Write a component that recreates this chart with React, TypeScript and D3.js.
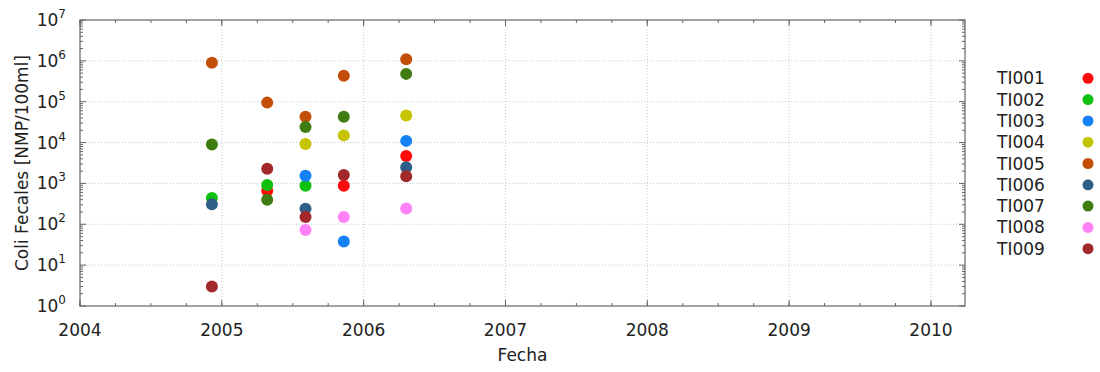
import React from "react";
import * as d3 from "d3";

const seriesNames = ["TI001", "TI002", "TI003", "TI004", "TI005", "TI006", "TI007", "TI008", "TI009"];
const seriesColors = ["#ff0a0a", "#10c010", "#1482f5", "#c6c400", "#c24e08", "#2f5f86", "#3f7c12", "#ff82f8", "#a3282a"];
const sampleDates = [2004.93, 2005.32, 2005.59, 2005.86, 2006.30];
const ti001 = [null, 660, null, 880, 4700];
const ti002 = [440, 920, 880, null, null];
const ti003 = [null, null, 1550, 38, 11000];
const ti004 = [null, null, 9200, 15000, 46000];
const ti005 = [900000, 95000, 43000, 430000, 1100000];
const ti006 = [310, null, 240, null, 2500];
const ti007 = [9000, 400, 24000, 43000, 480000];
const ti008 = [null, null, 72, 150, 245];
const ti009 = [3, 2300, 150, 1600, 1500];
const seriesValues: (number | null)[][] = [ti001, ti002, ti003, ti004, ti005, ti006, ti007, ti008, ti009];
const xTicks = [2004, 2005, 2006, 2007, 2008, 2009, 2010];
const yExponents = [0, 1, 2, 3, 4, 5, 6, 7];

const W = 1100, H = 372;
const L = 80, R = 965, T = 20, B = 306;
const FONT = "DejaVu Sans";
const FS = 17;

export default function App() {
  const x = d3.scaleLinear().domain([2004, 2010.24]).range([L, R]);
  const y = d3.scaleLog().domain([1, 1e7]).range([B, T]);
  const axisColor = "#666";
  const gridColor = "#c8c8c8";

  const minorX: number[] = [];
  for (let yr = 2004; yr <= 2010; yr++) {
    for (let q = 0; q < 4; q++) {
      const v = yr + q * 0.25;
      if (v <= 2010.24) minorX.push(v);
    }
  }
  const minorY: number[] = [];
  for (let e = 0; e < 7; e++) for (let m = 2; m <= 9; m++) minorY.push(m * Math.pow(10, e));

  return (
    <svg width={W} height={H} style={{ position: "absolute", left: 0, top: 0, background: "#fff" }} fontFamily={FONT}>
      <rect x={0} y={0} width={W} height={H} fill="#fff" />
      {/* grid */}
      {xTicks.slice(1).map((t) => (
        <line key={"gx" + t} x1={x(t)} x2={x(t)} y1={T} y2={B} stroke={gridColor} strokeWidth={1} strokeDasharray="1,2" />
      ))}
      {yExponents.slice(1, -1).map((e) => (
        <line key={"gy" + e} x1={L} x2={R} y1={y(Math.pow(10, e))} y2={y(Math.pow(10, e))} stroke={gridColor} strokeWidth={1} strokeDasharray="1,2" />
      ))}
      {/* minor ticks */}
      {minorX.map((v, i) => (
        <g key={"mx" + i} stroke={axisColor} strokeWidth={1}>
          <line x1={x(v)} x2={x(v)} y1={B} y2={B - 3} />
          <line x1={x(v)} x2={x(v)} y1={T} y2={T + 3} />
        </g>
      ))}
      {xTicks.map((t) => (
        <g key={"mjx" + t} stroke={axisColor} strokeWidth={1}>
          <line x1={x(t)} x2={x(t)} y1={B} y2={B - 6} />
          <line x1={x(t)} x2={x(t)} y1={T} y2={T + 6} />
        </g>
      ))}
      {minorY.map((v, i) => (
        <g key={"my" + i} stroke={axisColor} strokeWidth={1}>
          <line x1={L} x2={L + 3} y1={y(v)} y2={y(v)} />
          <line x1={R} x2={R - 3} y1={y(v)} y2={y(v)} />
        </g>
      ))}
      {yExponents.map((e) => (
        <g key={"mjy" + e} stroke={axisColor} strokeWidth={1}>
          <line x1={L} x2={L + 6} y1={y(Math.pow(10, e))} y2={y(Math.pow(10, e))} />
          <line x1={R} x2={R - 6} y1={y(Math.pow(10, e))} y2={y(Math.pow(10, e))} />
        </g>
      ))}
      {/* box */}
      <rect x={L} y={T} width={R - L} height={B - T} fill="none" stroke={axisColor} strokeWidth={1.2} />
      {/* tick labels */}
      {xTicks.map((t) => (
        <text key={"tx" + t} x={x(t)} y={B + 30} textAnchor="middle" fontSize={FS} fill="#222">
          {t}
        </text>
      ))}
      {yExponents.map((e) => (
        <text key={"ty" + e} x={L - 14} y={y(Math.pow(10, e)) + 6} textAnchor="end" fontSize={FS} fill="#222">
          10
          <tspan fontSize={12} dy={-8}>{e}</tspan>
        </text>
      ))}
      {/* axis labels */}
      <text x={(L + R) / 2} y={361} textAnchor="middle" fontSize={FS} fill="#222">Fecha</text>
      <text transform={`translate(28,${(T + B) / 2}) rotate(-90)`} textAnchor="middle" fontSize={FS} fill="#222">
        Coli Fecales [NMP/100ml]
      </text>
      {/* points */}
      {seriesValues.map((vals, si) => (
        <g key={"s" + si}>
          {vals.map((v, i) =>
            v == null ? null : (
              <circle key={i} cx={x(sampleDates[i])} cy={y(v)} r={6} fill={seriesColors[si]} />
            )
          )}
        </g>
      ))}
      {/* legend */}
      {seriesNames.map((n, i) => (
        <g key={"l" + n}>
          <text x={997} y={78.3 + i * 21.3 + 6} fontSize={FS} fill="#222">{n}</text>
          <circle cx={1088} cy={78.3 + i * 21.3} r={5.5} fill={seriesColors[i]} />
        </g>
      ))}
    </svg>
  );
}
